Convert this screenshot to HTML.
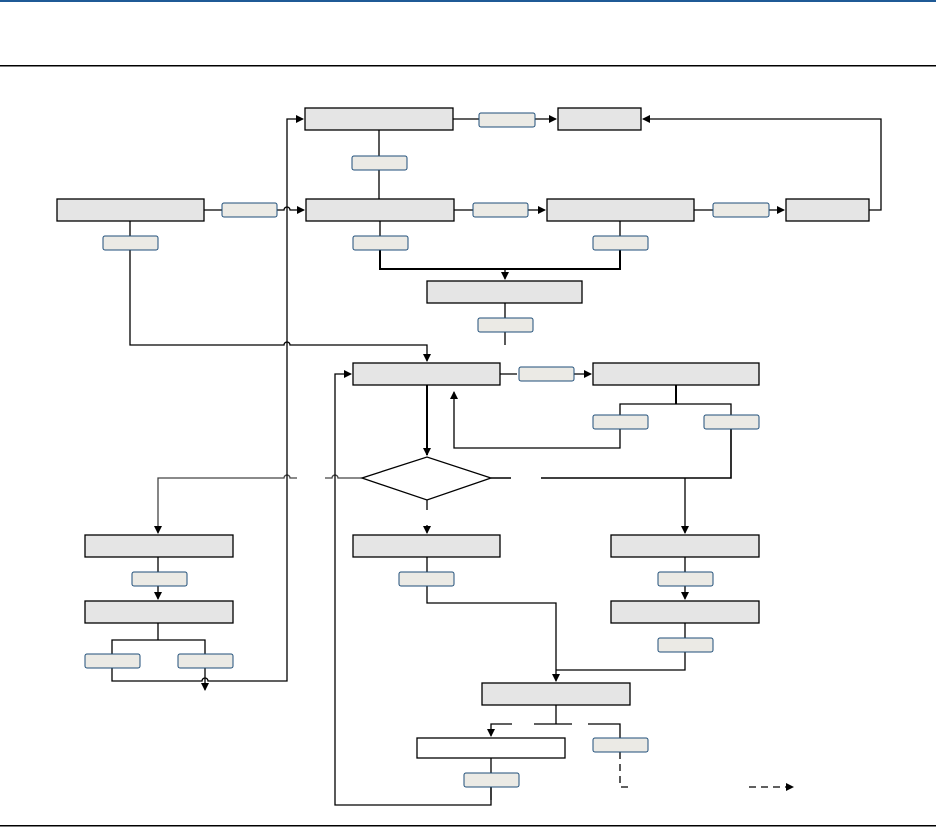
<!DOCTYPE html>
<html><head><meta charset="utf-8"><style>html,body{margin:0;padding:0;background:#fff}svg{display:block}</style></head>
<body>
<svg width="936" height="829" viewBox="0 0 936 829" xmlns="http://www.w3.org/2000/svg">
<defs>
<marker id="a" markerWidth="8" markerHeight="8" refX="7" refY="4" orient="auto" markerUnits="userSpaceOnUse"><path d="M0,0 L8,4 L0,8 Z" fill="#000"/></marker>
</defs>
<rect x="0" y="0" width="936" height="2" fill="#1f5a96"/>
<rect x="0" y="65" width="936" height="1.5" fill="#000"/>
<rect x="0" y="825" width="936" height="1.5" fill="#000"/>

<g fill="none" stroke="#000" stroke-width="1.3">
<path d="M453,119H479M535,119H556" marker-end="url(#a)"/>
<path d="M379,130V156M379,170V199"/>
<path d="M204,210H222M277,210H284a3,3 0 0 1 6,0H304" marker-end="url(#a)"/>
<path d="M130,221V236M130,250V345H284a3,3 0 0 1 6,0H427V361" marker-end="url(#a)"/>
<path d="M454,210H473M528,210H545" marker-end="url(#a)"/>
<path d="M694,210H713M769,210H784" marker-end="url(#a)"/>
<path d="M869,210H881V119H643" marker-end="url(#a)"/>
<path d="M380,221V236M620,221V236"/>
<path d="M380,250V269H620V250" stroke-width="2"/>
<path d="M505,269V279" marker-end="url(#a)"/>
<path d="M505,303V318M505,332V345"/>
<path d="M500,374H517M574,374H591" marker-end="url(#a)"/>
<path d="M676,385V404" stroke-width="2"/>
<path d="M620,415V404H731V415"/>
<path d="M620,429V448H454V392" marker-end="url(#a)"/>
<path d="M427,385V455" stroke-width="2" marker-end="url(#a)"/>
<path d="M731,429V478H541M491,478H511" stroke-width="1.6"/>
<path d="M685,478V533" marker-end="url(#a)"/>
<path d="M427,500V510"/>
<path d="M427,525V533" marker-end="url(#a)"/>
<path d="M362,478H338a3,3 0 0 0 -6,0H325M297,478H290a3,3 0 0 0 -6,0H158V533" stroke="#444" marker-end="url(#a)"/>
<path d="M491,787V805H335V374H351" marker-end="url(#a)"/>
<path d="M112,668V681H202a3,3 0 0 1 6,0H287V119H303" marker-end="url(#a)"/>
<path d="M205,668V690" marker-end="url(#a)"/>
<path d="M158,557V572M158,586V599" marker-end="url(#a)"/>
<path d="M158,623V640M112,654V640H205V654"/>
<path d="M427,557V572M427,586V603H556V681" marker-end="url(#a)"/>
<path d="M685,557V572M685,586V599" marker-end="url(#a)"/>
<path d="M685,623V638M685,652V670H556"/>
<path d="M556,705V724M534,724H572M588,724H620V738"/>
<path d="M512,724H491V736" marker-end="url(#a)"/>
<path d="M491,758V773M491,787V800"/>
<path d="M620,752V787H631M749,787H793" stroke-dasharray="7,5" marker-end="url(#a)"/>
</g>

<g fill="#e5e5e5" stroke="#000" stroke-width="1.3">
<rect x="305" y="108" width="148" height="22"/>
<rect x="558" y="108" width="83" height="22"/>
<rect x="57" y="199" width="147" height="22"/>
<rect x="306" y="199" width="148" height="22"/>
<rect x="547" y="199" width="147" height="22"/>
<rect x="786" y="199" width="83" height="22"/>
<rect x="427" y="281" width="155" height="22"/>
<rect x="353" y="363" width="147" height="22"/>
<rect x="593" y="363" width="166" height="22"/>
<rect x="85" y="535" width="148" height="22"/>
<rect x="353" y="535" width="147" height="22"/>
<rect x="611" y="535" width="148" height="22"/>
<rect x="85" y="601" width="148" height="22"/>
<rect x="611" y="601" width="148" height="22"/>
<rect x="482" y="683" width="148" height="22"/>
<rect x="417" y="738" width="148" height="20" fill="#fff"/>
<path d="M362,478L427,457L491,478L427,500Z" fill="#fff"/>
</g>

<g fill="#ebeae5" stroke="#1f4e79" stroke-width="1">
<rect x="479" y="113" width="56" height="14" rx="2"/>
<rect x="352" y="156" width="55" height="14" rx="2"/>
<rect x="222" y="203" width="55" height="14" rx="2"/>
<rect x="103" y="236" width="55" height="14" rx="2"/>
<rect x="353" y="236" width="55" height="14" rx="2"/>
<rect x="473" y="203" width="55" height="14" rx="2"/>
<rect x="593" y="236" width="55" height="14" rx="2"/>
<rect x="713" y="203" width="56" height="14" rx="2"/>
<rect x="478" y="318" width="55" height="14" rx="2"/>
<rect x="519" y="367" width="55" height="14" rx="2"/>
<rect x="593" y="415" width="55" height="14" rx="2"/>
<rect x="704" y="415" width="55" height="14" rx="2"/>
<rect x="132" y="572" width="55" height="14" rx="2"/>
<rect x="399" y="572" width="55" height="14" rx="2"/>
<rect x="658" y="572" width="55" height="14" rx="2"/>
<rect x="85" y="654" width="55" height="14" rx="2"/>
<rect x="178" y="654" width="55" height="14" rx="2"/>
<rect x="658" y="638" width="55" height="14" rx="2"/>
<rect x="593" y="738" width="55" height="14" rx="2"/>
<rect x="464" y="773" width="55" height="14" rx="2"/>
</g>
</svg>
</body></html>
